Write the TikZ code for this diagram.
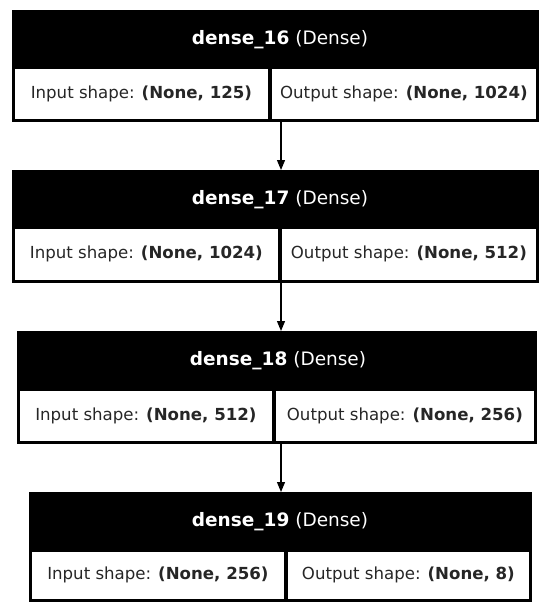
\documentclass[tikz,border=0pt]{standalone}
\usepackage{fontspec}
\setmainfont{DejaVu Sans}
\usetikzlibrary{arrows.meta}
\tikzset{
  blk/.style={draw=black, fill=black, line width=1pt, anchor=north west, inner sep=0pt},
  cell/.style={draw=black, fill=white, line width=0.8pt, anchor=north west, inner sep=0pt},
  hdr/.style={text=white, font=\fontsize{18.5}{20}\selectfont, inner sep=0pt},
  lbl/.style={text=black!85, font=\fontsize{16.6}{18}\selectfont, inner sep=0pt},
  arr/.style={draw=black, line width=1.2pt, -{Triangle[width=8pt,length=10pt]}}
}
\begin{document}
\begin{tikzpicture}[x=1pt,y=-1pt]
\useasboundingbox (0,0) rectangle (539,603);
% block 1
\node[blk, minimum width=526, minimum height=111] (b1) at (12,10) {};
\node[hdr] (h1) at (280,40) {\textbf{dense\_16} (Dense)};
\node[cell, minimum width=254, minimum height=51] (i1) at (14,68) {};
\node[cell, minimum width=265, minimum height=51] (o1) at (271,68) {};
\node[lbl] (ti1) at (i1.center) {Input shape: \textbf{(None, 125)}};
\node[lbl] (to1) at (o1.center) {Output shape: \textbf{(None, 1024)}};
% block 2
\node[blk, minimum width=526, minimum height=112] (b2) at (12,170) {};
\node[hdr] (h2) at (280,200) {\textbf{dense\_17} (Dense)};
\node[cell, minimum width=264, minimum height=52] (i2) at (14,228) {};
\node[cell, minimum width=255, minimum height=52] (o2) at (281,228) {};
\node[lbl] (ti2) at (i2.center) {Input shape: \textbf{(None, 1024)}};
\node[lbl] (to2) at (o2.center) {Output shape: \textbf{(None, 512)}};
% block 3
\node[blk, minimum width=519, minimum height=112] (b3) at (17,331) {};
\node[hdr] (h3) at (278,361) {\textbf{dense\_18} (Dense)};
\node[cell, minimum width=253, minimum height=51] (i3) at (19,390) {};
\node[cell, minimum width=259, minimum height=51] (o3) at (275,390) {};
\node[lbl] (ti3) at (i3.center) {Input shape: \textbf{(None, 512)}};
\node[lbl] (to3) at (o3.center) {Output shape: \textbf{(None, 256)}};
% block 4
\node[blk, minimum width=502, minimum height=109] (b4) at (29,492) {};
\node[hdr] (h4) at (280,522) {\textbf{dense\_19} (Dense)};
\node[cell, minimum width=253, minimum height=48] (i4) at (31,551) {};
\node[cell, minimum width=242, minimum height=48] (o4) at (287,551) {};
\node[lbl] (ti4) at (i4.center) {Input shape: \textbf{(None, 256)}};
\node[lbl] (to4) at (o4.center) {Output shape: \textbf{(None, 8)}};
% arrows
\coordinate (ax) at (281,0);
\draw[arr] (b1.south -| ax) -- (b2.north -| ax);
\draw[arr] (b2.south -| ax) -- (b3.north -| ax);
\draw[arr] (b3.south -| ax) -- (b4.north -| ax);
\end{tikzpicture}
\end{document}
